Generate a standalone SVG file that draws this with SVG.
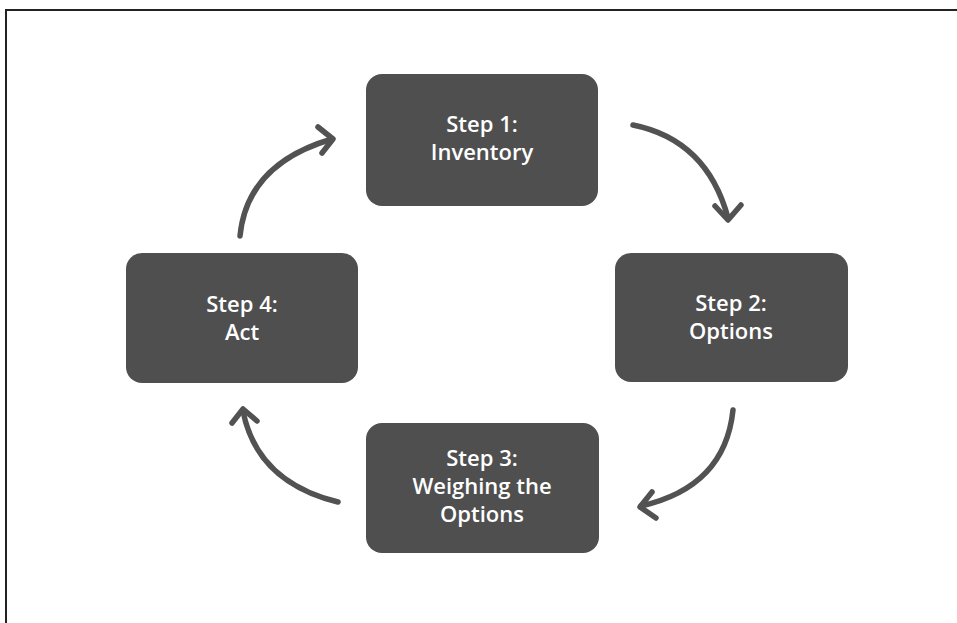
<svg xmlns="http://www.w3.org/2000/svg" width="957" height="623" viewBox="0 0 957 623">
<style>
.node{fill:#4f4f4f;}
.lbl{fill:#ffffff;font-family:"Open Sans","DejaVu Sans",sans-serif;font-weight:600;font-size:22px;text-anchor:middle;}
.arr{fill:none;stroke:#525252;stroke-width:5.5;stroke-linecap:round;stroke-linejoin:round;}
.frame{fill:none;stroke:#222;stroke-width:2;}
</style>
<rect width="957" height="623" fill="#ffffff"/>
<path class="frame" d="M6,623 L6,10 L957,10"/>
<g id="connectors">
<path class="arr" d="M633,125 Q707,140 728,218"/>
<path class="arr" d="M715,206 L728,220 L741,205"/>
<path class="arr" d="M733,410 Q725,487 641,506"/>
<path class="arr" d="M652,492 L640,507 L656,518"/>
<path class="arr" d="M338,502 Q257,482 243,411"/>
<path class="arr" d="M232,423 L243,409 L257,421"/>
<path class="arr" d="M240,236 Q247,164 332,139"/>
<path class="arr" d="M318,127 L333,139 L322,153"/>
</g>
<g id="step1">
<rect class="node" x="366" y="74" width="232" height="132" rx="16"/>
<text class="lbl" x="482" y="132">Step 1:</text>
<text class="lbl" x="482" y="160">Inventory</text>
</g>
<g id="step2">
<rect class="node" x="615" y="253" width="233" height="129" rx="16"/>
<text class="lbl" x="731" y="311">Step 2:</text>
<text class="lbl" x="731" y="339">Options</text>
</g>
<g id="step3">
<rect class="node" x="366" y="423" width="233" height="130" rx="16"/>
<text class="lbl" x="482" y="466">Step 3:</text>
<text class="lbl" x="482" y="494">Weighing the</text>
<text class="lbl" x="482" y="522">Options</text>
</g>
<g id="step4">
<rect class="node" x="126" y="253" width="232" height="130" rx="16"/>
<text class="lbl" x="242" y="312">Step 4:</text>
<text class="lbl" x="242" y="340">Act</text>
</g>
</svg>
